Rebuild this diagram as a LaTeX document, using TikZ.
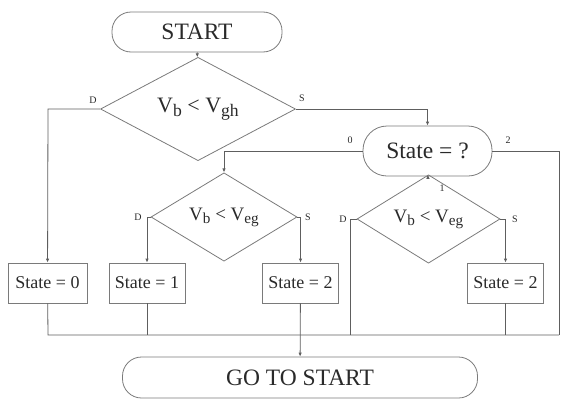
\documentclass[tikz,border=0pt]{standalone}
\usepackage{fontspec}
\usepackage{graphicx}
\setmainfont{Liberation Serif}
\usetikzlibrary{shapes.geometric,arrows.meta}

\definecolor{linegray}{HTML}{5E5E5E}
\definecolor{boxgray}{HTML}{7A7A7A}
\definecolor{textdark}{HTML}{2A2A2A}

% subscript set a little below the baseline at 80% size
\newcommand{\lowsub}[1]{\raisebox{-0.35ex}{\scalebox{0.8}{#1}}}

\tikzset{
  flow/.style={draw=linegray, line width=0.8pt},
  arr/.style={flow, -{Latex[length=4pt,width=3.5pt]}},
  terminal/.style={draw=boxgray, line width=0.8pt, rounded corners=19pt,
    inner sep=0pt, text=textdark, font=\fontsize{23.5}{25}\selectfont},
  decide/.style={draw=boxgray, line width=0.8pt, shape=diamond, inner sep=0pt,
    text=textdark},
  statebox/.style={draw=boxgray, line width=0.8pt, inner sep=0pt,
    minimum width=76pt, minimum height=40pt, text=textdark,
    font=\fontsize{18}{20}\selectfont},
  lbl/.style={text=textdark, inner sep=0pt, font=\fontsize{10}{11}\selectfont}
}

\begin{document}
\begin{tikzpicture}[x=1pt,y=-1pt]
\useasboundingbox (0,0) rectangle (561,399);

% terminals and the state selector
\node[terminal, minimum width=170pt, minimum height=40pt] (start) at (197,32) {START};
\node[terminal, minimum width=355pt, minimum height=41pt] (goto) at (300,377.5) {GO TO START};
\node[terminal, rounded corners=24pt, minimum width=129pt, minimum height=50pt] (sel) at (427.5,151) {State = ?};

% decisions
\node[decide, minimum width=195pt, minimum height=68pt, font=\fontsize{22}{24}\selectfont] (d1) at (198,109)
  {V\lowsub{b} < V\lowsub{gh}};
\node[decide, minimum width=146pt, minimum height=51pt, font=\fontsize{19}{21}\selectfont] (d2) at (224,217)
  {V\lowsub{b} < V\lowsub{eg}};
\node[decide, minimum width=143pt, minimum height=52pt, font=\fontsize{19}{21}\selectfont] (d3) at (428.5,219)
  {V\lowsub{b} < V\lowsub{eg}};

% state assignments
\node[statebox, minimum width=79pt] (s0) at (47.5,283) {State = 0};
\node[statebox] (s1) at (147,283) {State = 1};
\node[statebox] (s2a) at (300.5,283) {State = 2};
\node[statebox] (s2b) at (505.5,283) {State = 2};

% bend points
\coordinate (c1D) at (48,109);
\coordinate (c1S) at (427.5,109);
\coordinate (c0) at (224,151);
\coordinate (c2) at (559,151);
\coordinate (c2D) at (147,217);
\coordinate (c2S) at (300.5,217);
\coordinate (c3D) at (350,219);
\coordinate (c3S) at (505.5,219);
\coordinate (busL) at (48,335);
\coordinate (busR) at (559,335);
\coordinate (bus1) at (147,335);
\coordinate (bus3) at (350,335);
\coordinate (bus4) at (505.5,335);

% connectors
\draw[arr] (start) -- (d1);
\draw[arr] (d1.west) -- (c1D) -- (s0);
\draw[arr] (d1.east) -- (c1S) -- (sel);
\draw[arr] (sel.west) -- (c0) -- (d2);
\draw[arr] (sel) -- (d3);
\draw[flow] (sel.east) -- (c2) -- (busR);
\draw[arr] (d2.west) -- (c2D) -- (s1);
\draw[arr] (d2.east) -- (c2S) -- (s2a);
\draw[flow] (d3.west) -- (c3D) -- (bus3);
\draw[arr] (d3.east) -- (c3S) -- (s2b);

% collector back to the start
\draw[flow] (s0) -- (busL) -- (busR);
\draw[flow] (s1) -- (bus1);
\draw[flow] (s2b) -- (bus4);
\draw[arr] (s2a) -- (goto);

% branch labels
\node[lbl] (lD1) at (93,100) {D};
\node[lbl] (lS1) at (302,98) {S};
\node[lbl] (l0) at (350,140) {0};
\node[lbl] (l2) at (508,140) {2};
\node[lbl] (l1) at (442,188) {1};
\node[lbl] (lD2) at (138,217) {D};
\node[lbl] (lS2) at (308,217) {S};
\node[lbl] (lD3) at (343,219) {D};
\node[lbl] (lS3) at (515,219) {S};
\end{tikzpicture}
\end{document}
